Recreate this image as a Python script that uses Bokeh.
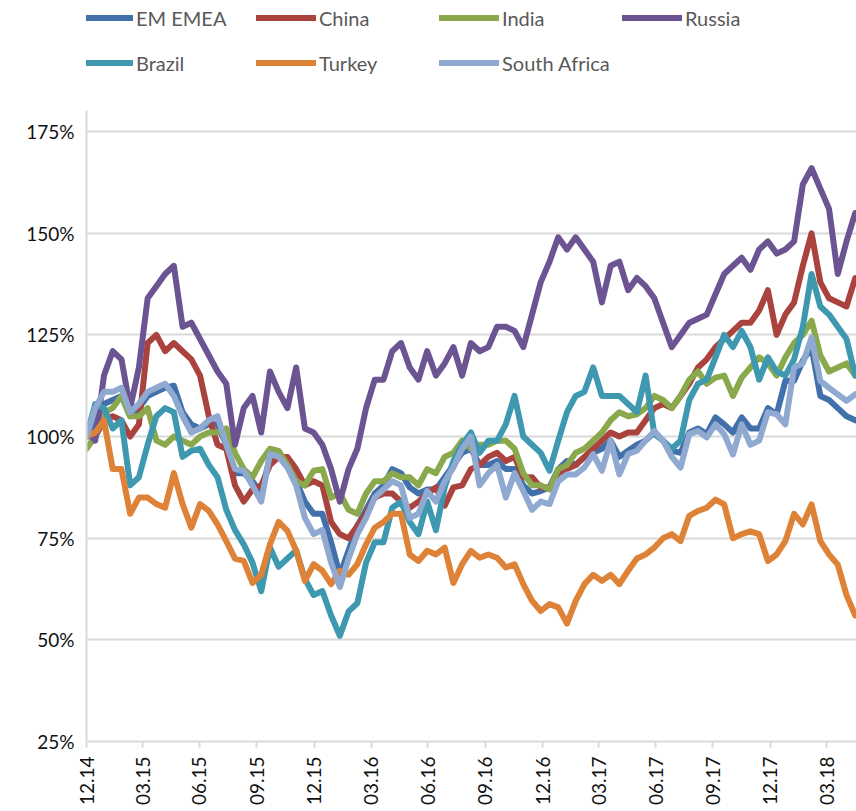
import numpy as np
import pandas as pd
from bokeh.plotting import figure
from bokeh.layouts import column
from bokeh.models import (Range1d, FixedTicker, DatetimeTickFormatter, PrintfTickFormatter,
                          Legend, LegendItem)
from bokeh.embed import file_html
from bokeh.resources import INLINE

# ---- data (index in % of start, bi-weekly observations from 31.12.2014) ----
start_date = "2014-12-31"
n_points = 89
dates = pd.date_range(start_date, periods=n_points, freq="14D")

series_names = ["EM EMEA", "China", "India", "Russia", "Brazil", "Turkey", "South Africa"]
series_colors = ["#4270AA", "#AA423E", "#8AA84C", "#6C5392", "#3E98B0", "#DE8238", "#8FA9D1"]

em_emea = [100, 104, 108, 109, 110, 105, 107, 110, 111, 112,
           112.5, 106, 103, 102, 103, 103, 98, 91, 91, 89,
           86, 95, 95, 93, 89, 84, 81, 81, 74, 66,
           72, 78, 82, 86, 88, 92, 91, 87.5, 86, 87,
           87, 90, 93, 96, 97, 93, 93, 94, 92, 92,
           88, 86, 86.6, 87.5, 92, 94, 93, 95, 96, 97,
           99, 95, 96.5, 98, 99, 101, 99, 96.5, 96, 101,
           102, 100.6, 104.7, 103, 101, 104.7, 102, 102, 107, 105.5,
           113.7, 113.7, 118.7, 122, 110, 109, 107, 105, 104]
china = [100, 100, 104, 105, 104, 100, 103, 123, 125, 121,
         123, 121, 119, 115, 105, 98, 97, 88, 84, 87,
         88, 93, 95, 95, 92, 88, 89, 88, 79, 76,
         75, 78, 81, 85, 86, 86, 84, 82.5, 84, 86,
         87.5, 83, 87.5, 88, 92, 93, 95, 96, 94, 95,
         90, 90, 87.5, 87.5, 91, 92, 93, 95, 97, 99,
         101, 100, 101, 101, 104, 107, 108, 107, 110, 113,
         117, 119, 122, 124, 126, 128, 128, 131, 136, 125,
         130, 133, 142, 150, 138, 134, 133, 132, 139]
india = [97, 100, 106, 107, 110, 105, 105, 107, 99, 98,
         100, 99, 98, 100, 101, 101, 102, 96, 92, 90,
         94, 97, 96.5, 93, 89, 88, 91.6, 92, 85, 86,
         82, 81, 86, 89, 89, 91, 90, 90, 88, 92,
         91, 95, 96, 99, 97, 98, 98, 99, 99, 97,
         91, 88, 88, 87, 92, 93, 96, 97, 99, 101,
         104, 106, 105, 105.5, 107, 110, 109, 107, 110, 114,
         116, 113, 114.5, 115, 110, 114.5, 117, 119.5, 118, 115,
         119.5, 123, 125, 128.5, 120, 116, 117, 118, 115]
russia = [102, 99, 115, 121, 119, 107, 117, 134, 137, 140,
          142, 127, 128, 124, 120, 116, 113, 98, 107, 110,
          101, 116, 111, 107, 117, 102, 101, 98, 92, 84,
          92, 97, 107, 114, 114, 121, 123, 117, 114, 121,
          115, 118, 122, 115, 123, 121, 122, 127, 127, 126,
          122, 130, 138, 143, 149, 146, 149, 146, 143, 133,
          142, 143, 136, 139, 137, 134, 128, 122, 125, 128,
          129, 130, 135, 140, 142, 144, 141, 146, 148, 145,
          146, 148, 162, 166, 161, 156, 140, 148, 155]
brazil = [100, 108, 107, 102, 104, 88, 90, 98, 105, 107,
          106, 95, 96.5, 97, 93, 90, 82, 77, 73.5, 69,
          62, 72.7, 68, 70, 72, 65, 61, 62, 56, 51,
          57, 59, 69, 74, 74, 82.5, 84, 79, 76, 84,
          77, 87.5, 94, 98, 101, 96, 99, 99, 103, 110,
          100, 98, 96, 91.6, 99, 106, 110, 111, 117, 110,
          110, 110, 108, 106, 115, 100.6, 99, 97, 99, 109,
          113, 114, 119.5, 125, 122, 126, 122, 114, 119.5, 116,
          115, 119, 127, 140, 132, 130, 127, 124, 115]
turkey = [100, 101, 104, 92, 92, 81, 85, 85, 83.4, 82.5,
          91, 83.4, 77.6, 83.4, 81.7, 78.4, 74.3, 70, 69.4, 64,
          66, 73.5, 79, 76.8, 72, 64.5, 68.6, 67, 63.7, 67,
          66, 68.6, 73.5, 77.6, 79, 81, 81, 71, 69.4, 71.9,
          71, 72.7, 64, 68.6, 71.9, 70.2, 71, 70.2, 67.8, 68.6,
          63.7, 59.6, 57.1, 58.8, 58, 54, 59.6, 63.7, 66, 64.5,
          66, 63.7, 67, 70, 71, 72.7, 75, 76, 74.3, 80.5,
          81.7, 82.5, 84.5, 83.3, 75, 76, 76.7, 76, 69.4, 71,
          74.3, 81, 78.4, 83.3, 74.3, 71, 68.5, 61, 56]
south_africa = [100, 107, 111, 111, 112, 106, 108, 111, 112, 113,
                110, 105, 101, 102, 104, 105, 98, 92, 91.6, 88,
                84, 95.7, 95, 92.4, 88, 80, 76, 77, 69, 63,
                70, 76, 80, 85, 87, 89, 88, 80, 81, 86.6,
                84, 89, 92.4, 97, 100, 88, 91, 93, 85, 91,
                86.6, 82, 84, 83.4, 89, 90.7, 90.7, 92.4, 95.7, 91.6,
                99, 90.7, 95.7, 96.5, 99, 101.4, 99, 95, 92.4, 100.6,
                101.4, 99.8, 103, 100.6, 95.6, 103, 98, 99, 106, 105.5,
                103, 117, 118, 124.4, 113.7, 112, 110.4, 108.8, 110.4]

all_series = [em_emea, china, india, russia, brazil, turkey, south_africa]

quarter_ticks = ["2014-12-31", "2015-03-31", "2015-06-30", "2015-09-30", "2015-12-31",
                 "2016-03-31", "2016-06-30", "2016-09-30", "2016-12-31", "2017-03-31",
                 "2017-06-30", "2017-09-30", "2017-12-31", "2018-03-31"]
x_end = "2018-05-18"
y_ticks = [25, 50, 75, 100, 125, 150, 175]

FONT = "Lato"
LINE_W = 6

# ---- main chart ----
p = figure(width=856, height=700, x_axis_type="datetime",
           output_backend="svg", toolbar_location=None,
           x_range=Range1d(pd.Timestamp(start_date).to_pydatetime(), pd.Timestamp(x_end).to_pydatetime()),
           y_range=Range1d(25, 180.2),
           min_border_left=86, min_border_right=0, min_border_top=0, min_border_bottom=69)
p.outline_line_color = None
p.background_fill_color = "white"

for name, vals, col in zip(series_names, all_series, series_colors):
    p.line(dates, vals, line_color=col, line_width=LINE_W, line_cap="round", line_join="round")

tick_ms = [pd.Timestamp(t).value // 10**6 for t in quarter_ticks]
p.xaxis.ticker = FixedTicker(ticks=tick_ms)
fmt = "%m.%y"
p.xaxis.formatter = DatetimeTickFormatter(microseconds=fmt, milliseconds=fmt, seconds=fmt, minsec=fmt,
                                          minutes=fmt, hourmin=fmt, hours=fmt, days=fmt,
                                          months=fmt, years=fmt)
p.xaxis.major_label_orientation = np.pi / 2
p.xaxis.axis_line_color = "#D9D9D9"
p.xaxis.axis_line_width = 2
p.xaxis.major_tick_line_color = "#D9D9D9"
p.xaxis.major_tick_line_width = 2
p.xaxis.major_tick_in = 0
p.xaxis.major_tick_out = 6
p.xaxis.minor_tick_line_color = None
p.xaxis.major_label_standoff = 9
p.xaxis.major_label_text_font = FONT
p.xaxis.major_label_text_font_size = "19px"
p.xaxis.major_label_text_color = "#111111"

p.yaxis.ticker = FixedTicker(ticks=y_ticks)
p.yaxis.formatter = PrintfTickFormatter(format="%d%%")
p.yaxis.axis_line_color = "#D9D9D9"
p.yaxis.axis_line_width = 2
p.yaxis.major_tick_line_color = None
p.yaxis.minor_tick_line_color = None
p.yaxis.major_label_standoff = 6
p.yaxis.major_label_text_font = FONT
p.yaxis.major_label_text_font_size = "19px"
p.yaxis.major_label_text_color = "#111111"

p.xgrid.visible = False
p.ygrid.grid_line_color = "#D9D9D9"
p.ygrid.grid_line_width = 2

# ---- legend strip ----
lg = figure(width=856, height=110, output_backend="svg", toolbar_location=None,
            x_range=Range1d(0, 1), y_range=Range1d(0, 1), min_border=0)
lg.axis.visible = False
lg.grid.visible = False
lg.outline_line_color = None
items = []
for name, col in zip(series_names, series_colors):
    r = lg.line(x=[0], y=[0], line_color=col, line_width=LINE_W, line_cap="round")
    items.append(LegendItem(label=name, renderers=[r]))
legend = Legend(items=items, orientation="horizontal", ncols=4, location=(-13, 30),
                glyph_width=60, glyph_height=35, label_standoff=3, label_width=110,
                spacing=10, padding=0, margin=0, border_line_color=None,
                background_fill_alpha=0, label_text_font=FONT, label_text_font_size="20px",
                label_text_color="#595959")
lg.add_layout(legend)

layout = column(lg, p, spacing=0)
open("out.html", "w").write(file_html(layout, INLINE))
